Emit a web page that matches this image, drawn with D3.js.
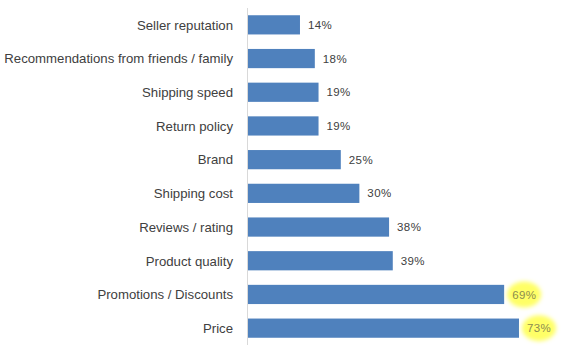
<!DOCTYPE html>
<html><head><meta charset="utf-8">
<script src="https://cdn.jsdelivr.net/npm/d3@7/dist/d3.min.js"></script>
<style>body{margin:0;background:#fff}</style>
</head><body>
<svg id="c" width="569" height="355"></svg>
<script>
const categories = ["Seller reputation","Recommendations from friends / family","Shipping speed","Return policy","Brand","Shipping cost","Reviews / rating","Product quality","Promotions / Discounts","Price"];
const values = [14,18,19,19,25,30,38,39,69,73];
const highlighted = ["Promotions / Discounts","Price"];

const svg = d3.select("#c");
const x = d3.scaleLinear().domain([0,73]).range([248,519]);
const y = d3.scaleBand().domain(categories).range([8,345]).paddingInner(0.43).paddingOuter(0.215);

const defs = svg.append("defs");
const f = defs.append("filter").attr("id","blur").attr("x","-50%").attr("y","-50%").attr("width","200%").attr("height","200%");
f.append("feGaussianBlur").attr("stdDeviation",2);

const data = categories.map((c,i)=>({c, v: values[i]}));

svg.append("line").attr("x1",247.5).attr("x2",247.5).attr("y1",8).attr("y2",345)
  .attr("stroke","#d9d9d9").attr("stroke-width",1);

svg.selectAll("rect.bar").data(data).join("rect").attr("class","bar")
  .attr("x",x(0)).attr("y",d=>y(d.c)).attr("width",d=>x(d.v)-x(0)).attr("height",y.bandwidth())
  .attr("fill","#4F81BD");

svg.selectAll("ellipse.hl").data(data.filter(d=>highlighted.includes(d.c))).join("ellipse").attr("class","hl")
  .attr("cx",d=>x(d.v)+20).attr("cy",d=>y(d.c)+y.bandwidth()/2)
  .attr("rx",17).attr("ry",13).attr("fill","#FFFF66").attr("filter","url(#blur)");

svg.selectAll("text.cat").data(data).join("text").attr("class","cat")
  .attr("x",233).attr("y",d=>y(d.c)+y.bandwidth()/2).attr("dy","0.36em")
  .attr("text-anchor","end").attr("font-family","Liberation Sans, Arial, sans-serif")
  .attr("font-size",13.2).attr("fill","#404040").text(d=>d.c);

svg.selectAll("text.val").data(data).join("text").attr("class","val")
  .attr("x",d=>x(d.v)+8).attr("y",d=>y(d.c)+y.bandwidth()/2).attr("dy","0.36em")
  .attr("font-family","Liberation Sans, Arial, sans-serif").attr("letter-spacing",0.4)
  .attr("font-size",11.5).attr("fill",d=>highlighted.includes(d.c)?"#8c8c50":"#404040").text(d=>d.v+"%");
</script>
</body></html>
